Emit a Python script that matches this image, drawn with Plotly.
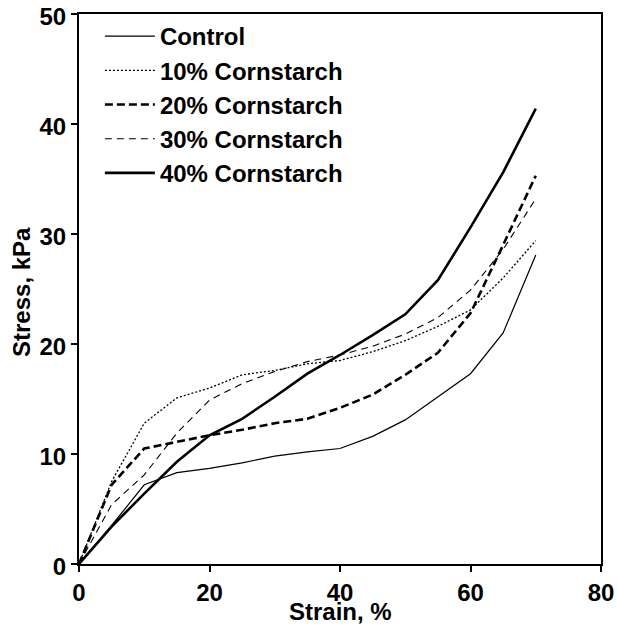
import plotly.graph_objects as go

strain = [0, 5, 10, 15, 20, 25, 30, 35, 40, 45, 50, 55, 60, 65, 70]

control = [0, 3.5, 7.2, 8.3, 8.7, 9.2, 9.8, 10.2, 10.5, 11.6, 13.1, 15.2, 17.3, 21.0, 28.1]
cs10 = [0, 7.5, 12.8, 15.1, 16.0, 17.2, 17.6, 18.2, 18.5, 19.3, 20.3, 21.6, 23.1, 26.0, 29.4]
cs20 = [0, 7.2, 10.5, 11.1, 11.7, 12.2, 12.8, 13.2, 14.2, 15.4, 17.2, 19.2, 22.8, 29.0, 35.3]
cs30 = [0, 5.4, 8.1, 11.9, 14.9, 16.4, 17.5, 18.4, 19.0, 19.8, 20.9, 22.4, 24.9, 28.6, 33.2]
cs40 = [0, 3.4, 6.4, 9.3, 11.7, 13.2, 15.2, 17.3, 19.0, 20.8, 22.7, 25.8, 30.6, 35.6, 41.4]

names = ["Control", "10% Cornstarch", "20% Cornstarch", "30% Cornstarch", "40% Cornstarch"]
series = [control, cs10, cs20, cs30, cs40]
styles = [
    dict(width=1.2, dash="solid"),
    dict(width=1.3, dash="2px,2px"),
    dict(width=2.6, dash="8px,4px"),
    dict(width=1.1, dash="7px,5px"),
    dict(width=2.6, dash="solid"),
]

fig = go.Figure()
for n, s, st in zip(names, series, styles):
    fig.add_trace(go.Scatter(x=strain, y=s, mode="lines", name=n,
                             line=dict(color="black", **st)))

font = "Liberation Sans, Arial, sans-serif"
fig.update_layout(
    width=617, height=627,
    margin=dict(l=79, r=16, t=14, b=63, autoexpand=False),
    paper_bgcolor="white", plot_bgcolor="white",
    font=dict(family=font, size=24, color="black"),
    showlegend=True,
    legend=dict(x=0.040, y=1.0, xanchor="left", yanchor="top",
                bgcolor="rgba(0,0,0,0)", borderwidth=0,
                font=dict(family=font, size=24, color="black", weight="bold"),
                itemwidth=50, tracegroupgap=0),
    annotations=[
        dict(text="<b>Strain, %</b>", xref="paper", yref="paper", x=0.5, y=0,
             xanchor="center", yanchor="bottom", yshift=-63, showarrow=False,
             font=dict(size=24)),
        dict(text="<b>Stress, kPa</b>", xref="paper", yref="paper", x=0, y=0.5,
             xanchor="center", yanchor="middle", xshift=-58, yshift=-3,
             textangle=-90, showarrow=False, font=dict(size=24)),
    ],
)
fig.update_xaxes(range=[0, 80], tickvals=[0, 20, 40, 60, 80],
                 showgrid=False, zeroline=False, automargin=False,
                 ticklabeloverflow="allow",
                 showline=True, linecolor="black", linewidth=2, mirror=True,
                 ticks="outside", ticklen=6, tickwidth=1.5, tickcolor="black",
                 tickfont=dict(size=24, weight="bold"))
fig.update_yaxes(range=[0, 50], tickvals=[0, 10, 20, 30, 40, 50],
                 showgrid=False, zeroline=False, automargin=False,
                 ticklabeloverflow="allow", ticklabelshift=3,
                 showline=True, linecolor="black", linewidth=2, mirror=True,
                 ticks="outside", ticklen=6, tickwidth=1.5, tickcolor="black",
                 tickfont=dict(size=24, weight="bold"))

# remove the default 8px body margin so the 617x627 figure fills the window exactly
fig.write_html("out.html", config={"displayModeBar": False},
               post_script="document.body.style.margin='0';")
